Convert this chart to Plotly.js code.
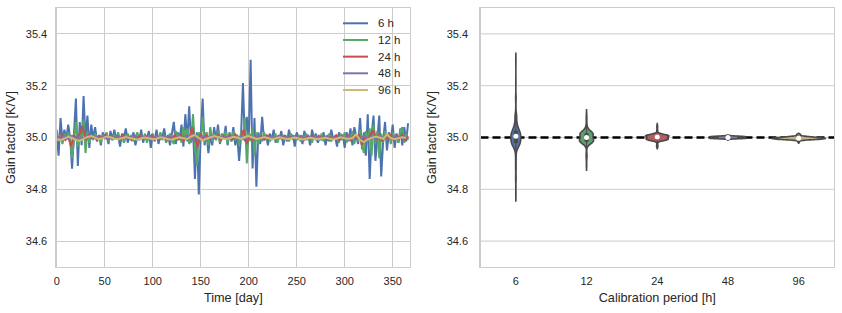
<!DOCTYPE html>
<html><head><meta charset="utf-8">
<script src="https://cdn.plot.ly/plotly-3.0.1.min.js"></script>
<style>html,body{margin:0;padding:0;background:#fff;} #chart{width:842px;height:313px;}</style>
</head><body><div id="chart"></div>
<script>
// ---- data ----
const periods = ['6', '12', '24', '48', '96'];
const seriesNames = ['6 h', '12 h', '24 h', '48 h', '96 h'];
const xTicks = [0, 50, 100, 150, 200, 250, 300, 350];
const yTicks = [34.6, 34.8, 35.0, 35.2, 35.4];
const referenceGain = 35.0;
const sampleStepDays = [2, 2, 3, 4, 4];

const gain6h = [
35.01, 34.93, 35.075, 34.985, 35.03, 34.995, 35.05, 35.0, 34.88, 35.01,
35.15, 34.89, 35.06, 34.97, 35.16, 34.99, 35.085, 34.96, 35.05, 34.995,
35.04, 34.985, 35.01, 34.97, 35.02, 34.995, 35.005, 34.975, 35.025, 34.99,
35.03, 34.995, 35.01, 34.965, 35.015, 35.0, 35.035, 34.98, 35.005, 34.99,
35.02, 34.97, 35.005, 34.99, 35.03, 34.98, 35.01, 34.995, 35.025, 34.96,
35.01, 34.99, 35.03, 34.975, 35.005, 35.0, 35.035, 34.985, 35.01, 34.97,
35.015, 35.06, 34.975, 35.02, 34.99, 35.05, 34.965, 35.09, 34.985, 35.12,
34.98, 35.04, 34.84, 35.02, 34.78, 35.01, 35.15, 34.97, 35.02, 34.94,
35.01, 34.97, 35.04, 34.99, 35.05, 34.975, 35.015, 34.995, 35.045, 34.97,
35.02, 34.985, 35.04, 34.97, 35.01, 34.91, 35.005, 35.21, 34.985, 35.08,
34.99, 35.30, 34.88, 35.075, 34.81, 35.02, 34.975, 35.08, 34.99, 35.01,
34.97, 35.015, 34.99, 35.03, 34.98, 35.005, 34.995, 35.025, 34.97, 35.01,
34.985, 35.03, 34.995, 35.01, 34.965, 35.02, 35.0, 35.005, 34.975, 35.025,
34.99, 35.01, 34.97, 35.03, 34.995, 35.015, 34.98, 35.0, 34.99, 35.02,
34.97, 35.01, 34.985, 35.03, 34.995, 35.005, 34.965, 35.02, 34.99, 35.01,
34.96, 35.02, 34.985, 35.035, 34.97, 35.04, 35.005, 34.975, 35.075, 34.955,
35.02, 34.93, 35.09, 34.84, 35.01, 35.085, 34.91, 34.995, 35.085, 34.85,
34.985, 35.06, 34.95, 35.02, 34.99, 35.05, 34.96, 35.015, 34.98, 35.035,
34.97, 35.04, 34.985, 35.055
];
const gain12h = [
35.03, 34.985, 35.01, 34.975, 35.015, 34.995, 35.02, 35.0, 34.92, 35.005,
35.06, 34.965, 35.02, 34.985, 35.07, 34.94, 35.02, 34.98, 35.01, 34.99,
35.015, 34.995, 35.005, 34.98, 35.01, 35.0, 35.02, 34.985, 35.005, 34.99,
35.01, 34.995, 35.02, 34.99, 35.005, 34.98, 35.0, 35.015, 34.995, 35.01,
34.985, 35.005, 35.02, 34.99, 35.01, 34.995, 35.015, 34.98, 35.005, 35.0,
35.015, 34.985, 35.005, 34.995, 35.02, 34.99, 35.01, 34.98, 35.0, 35.015,
34.99, 34.975, 35.025, 34.995, 35.015, 34.98, 35.04, 34.99, 35.035, 34.975,
34.99, 35.09, 34.965, 34.89, 35.02, 34.985, 35.08, 34.98, 35.02, 34.97,
35.04, 34.985, 35.015, 34.99, 35.025, 34.98, 35.01, 34.995, 35.025, 34.98,
35.015, 34.985, 35.025, 34.99, 35.01, 34.97, 35.02, 34.99, 35.075, 34.90,
35.02, 34.985, 35.04, 34.93, 35.02, 34.975, 35.015, 34.985, 35.02, 34.99,
35.01, 34.985, 35.005, 34.995, 35.015, 34.98, 35.005, 34.995, 35.01, 34.99,
35.005, 34.985, 35.015, 34.995, 35.0, 34.99, 35.01, 34.985, 35.005, 34.995,
35.015, 34.99, 35.005, 34.98, 35.01, 34.995, 35.0, 34.99, 35.015, 34.985,
35.005, 34.99, 35.015, 34.985, 35.0, 34.995, 35.01, 34.98, 35.015, 34.995,
35.02, 34.98, 35.01, 34.99, 35.025, 34.975, 35.01, 34.985, 35.03, 34.97,
34.94, 35.025, 34.985, 35.035, 34.93, 35.05, 34.98, 35.025, 34.92, 35.015,
34.98, 35.025, 34.99, 35.015, 34.975, 35.02, 34.99, 35.015, 34.98, 35.025,
35.04, 34.98, 35.015, 34.99
];
const gain24h = [
35.005, 34.995, 35.01, 34.99, 35.003, 34.965, 35.008, 34.996, 35.015, 35.045,
34.99, 35.008, 34.997, 35.004, 34.99, 35.006, 34.998, 35.01, 34.994, 35.002,
34.996, 35.006, 34.992, 35.01, 34.998, 35.003, 34.99, 35.005, 34.997, 35.008,
34.993, 35.004, 34.998, 35.009, 34.992, 35.003, 34.996, 35.007, 34.991, 35.002,
34.995, 35.01, 34.99, 35.015, 34.985, 35.006, 34.992, 35.04, 34.995, 34.965,
35.015, 34.99, 35.008, 34.995, 35.006, 34.996, 35.012, 34.99, 35.005, 34.997,
35.008, 34.99, 35.012, 34.996, 35.004, 35.03, 34.975, 35.01, 34.99, 35.004,
34.995, 35.006, 34.992, 35.008, 34.997, 35.003, 34.993, 35.006, 34.998, 35.004,
34.992, 35.003, 34.997, 35.008, 34.995, 35.005, 34.991, 35.003, 34.998, 35.006,
34.993, 35.007, 34.996, 35.004, 34.991, 35.002, 34.997, 35.008, 34.99, 35.004,
34.994, 35.01, 34.99, 35.008, 34.996, 35.012, 34.97, 35.006, 34.99, 35.015,
35.025, 34.99, 35.01, 34.985, 35.006, 34.994, 35.012, 34.99, 35.007, 34.996,
35.01, 34.99, 35.005
];
const gain48h = [
35.002, 34.997, 35.005, 34.995, 35.007, 34.998, 35.003, 34.996, 35.004, 34.999,
35.002, 34.997, 35.003, 34.996, 35.001, 34.998, 35.004, 34.997, 35.002, 34.999,
35.003, 34.997, 35.001, 34.996, 35.003, 34.999, 35.002, 34.997, 35.004, 34.998,
35.003, 34.996, 35.005, 34.995, 35.007, 34.993, 35.005, 34.997, 35.004, 34.998,
35.003, 34.997, 35.004, 34.996, 35.003, 34.998, 35.005, 34.995, 35.006, 34.996,
35.005, 34.996, 35.003, 34.998, 35.002, 34.997, 35.003, 34.998, 35.002, 34.999,
35.002, 34.997, 35.003, 34.999, 35.002, 34.997, 35.003, 34.998, 35.002, 34.997,
35.003, 34.998, 35.002, 34.997, 35.003, 34.996, 35.004, 34.997, 35.005, 34.995,
35.005, 34.996, 35.004, 34.997, 35.005, 34.996, 35.003, 34.997, 35.004, 34.998,
35.003, 34.998
];
const gain96h = [
34.993, 34.990, 34.996, 35.003, 34.998, 34.990, 34.987, 34.995, 35.002, 35.006,
34.999, 34.993, 34.997, 35.004, 35.001, 34.995, 34.993, 34.997, 35.002, 34.998,
34.994, 34.991, 34.996, 35.000, 34.997, 34.993, 34.995, 35.001, 34.998, 34.993,
34.992, 34.996, 35.001, 34.997, 34.994, 35.004, 35.010, 34.998, 34.990, 34.995,
35.001, 35.006, 35.002, 34.996, 34.993, 34.997, 35.003, 35.000, 34.995, 35.002,
35.006, 35.000, 34.994, 34.997, 35.002, 34.998, 34.993, 34.996, 35.001, 34.997,
34.993, 34.996, 35.000, 34.996, 34.992, 34.995, 34.999, 34.996, 34.993, 34.996,
34.999, 34.995, 34.992, 34.996, 35.001, 34.997, 34.994, 34.998, 35.012, 34.990,
34.982, 34.993, 34.999, 35.004, 35.000, 34.995, 35.012, 34.998, 34.993, 34.997,
35.001, 34.998
];
const allSeries = [gain6h, gain12h, gain24h, gain48h, gain96h];

// ---- styles ----
const lineColors = ['#4C72B0', '#55A868', '#C44E52', '#8172B2', '#CCB974'];
const violinFills = ['#5975A4', '#5F9E6E', '#B55D60', '#857AAB', '#C1B37F'];
const violinWidths = [0.14, 0.2, 0.33, 0.52, 0.76];
const FONT = 'Liberation Sans, Arial, sans-serif';
const TXT = '#262626';
const GRID = '#cccccc';

function median(a) {
  const s = a.slice().sort((p, q) => p - q);
  const m = Math.floor(s.length / 2);
  return s.length % 2 ? s[m] : (s[m - 1] + s[m]) / 2;
}

const traces = [];
allSeries.forEach((vals, i) => {
  traces.push({
    type: 'scatter', mode: 'lines',
    x: vals.map((_, k) => k * sampleStepDays[i]), y: vals,
    name: seriesNames[i], xaxis: 'x', yaxis: 'y',
    line: {color: lineColors[i], width: 2},
    showlegend: false, hoverinfo: 'skip'
  });
});
allSeries.forEach((vals, i) => {
  traces.push({
    type: 'violin', y: vals, x0: periods[i], name: periods[i],
    xaxis: 'x2', yaxis: 'y2',
    fillcolor: violinFills[i],
    line: {color: '#4a4a4a', width: 1.6},
    width: violinWidths[i], scalemode: 'width', points: false,
    box: {visible: true, width: 0.045 / violinWidths[i], fillcolor: '#4a4a4a', line: {color: '#4a4a4a', width: 1}},
    meanline: {visible: false}, opacity: 1,
    showlegend: false, hoverinfo: 'skip'
  });
});
traces.push({
  type: 'scatter', mode: 'markers', x: periods, y: allSeries.map(median),
  xaxis: 'x2', yaxis: 'y2', marker: {color: 'white', size: 5},
  showlegend: false, hoverinfo: 'skip'
});

// layout geometry (px)
const W = 842, H = 313, T = 8, B = 46;
const px2x = p => p / W;
const py2y = p => (H - B - p) / (H - T - B);
const dom2 = [px2x(480.5), px2x(834)];

const shapes = [];
// right-panel horizontal grid drawn as shapes so the reference line can sit above it but below the violins
yTicks.forEach(v => shapes.push({
  type: 'line', xref: 'paper', x0: dom2[0], x1: dom2[1], yref: 'y2', y0: v, y1: v,
  line: {color: GRID, width: 1}, layer: 'below'
}));
shapes.push({
  type: 'line', xref: 'paper', x0: dom2[0], x1: dom2[1], yref: 'y2', y0: referenceGain, y1: referenceGain,
  line: {color: 'black', width: 2.5, dash: '8px,4px'}, layer: 'below'
});
const annotations = [];
seriesNames.forEach((nm, i) => {
  const yy = py2y(23.3 + 16.67 * i);
  shapes.push({type: 'line', xref: 'paper', yref: 'paper', x0: px2x(343), x1: px2x(368), y0: yy, y1: yy,
    line: {color: lineColors[i], width: 2}});
  annotations.push({xref: 'paper', yref: 'paper', x: px2x(376), y: yy, xanchor: 'left', yanchor: 'middle',
    text: nm, showarrow: false, font: {family: FONT, size: 11.5, color: TXT}});
});

const axCommon = {
  showline: true, linecolor: GRID, linewidth: 1.25, mirror: true, zeroline: false,
  gridcolor: GRID, gridwidth: 1, ticks: '',
  tickfont: {family: FONT, size: 11, color: TXT}
};
const layout = {
  width: W, height: H, margin: {l: 0, r: 0, t: T, b: B},
  paper_bgcolor: 'white', plot_bgcolor: 'white',
  font: {family: FONT, color: TXT},
  showlegend: false, violinmode: 'overlay',
  xaxis: Object.assign({}, axCommon, {
    domain: [px2x(56.7), px2x(410)], range: [0, 368], tickvals: xTicks, showgrid: true,
    ticklabelstandoff: 4,
    title: {text: 'Time [day]', font: {family: FONT, size: 12.7, color: TXT}, standoff: 6}
  }),
  yaxis: Object.assign({}, axCommon, {
    domain: [0, 1], range: [34.5, 35.5], tickvals: yTicks, tickformat: '.1f', showgrid: true,
    ticklabelstandoff: 6,
    title: {text: 'Gain factor [K/V]', font: {family: FONT, size: 12.7, color: TXT}, standoff: 7}
  }),
  xaxis2: Object.assign({}, axCommon, {
    domain: dom2, type: 'category', categoryorder: 'array', categoryarray: periods,
    range: [-0.5, 4.5], showgrid: false, anchor: 'y2', ticklabelstandoff: 4,
    title: {text: 'Calibration period [h]', font: {family: FONT, size: 12.7, color: TXT}, standoff: 6}
  }),
  yaxis2: Object.assign({}, axCommon, {
    domain: [0, 1], range: [34.5, 35.5], tickvals: yTicks, tickformat: '.1f', showgrid: false,
    anchor: 'x2', ticklabelstandoff: 9,
    title: {text: 'Gain factor [K/V]', font: {family: FONT, size: 12.7, color: TXT}, standoff: 7}
  }),
  shapes: shapes, annotations: annotations
};

Plotly.newPlot('chart', traces, layout, {staticPlot: true, displayModeBar: false});
</script></body></html>
